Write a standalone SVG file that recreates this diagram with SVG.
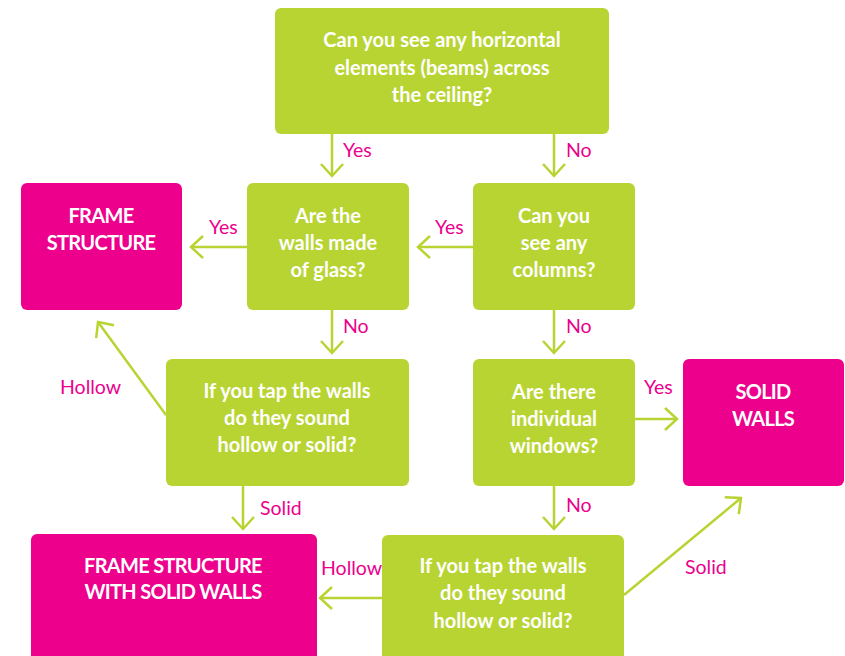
<svg xmlns="http://www.w3.org/2000/svg" width="845" height="656" viewBox="0 0 845 656">
<defs>
<style>
.q{fill:#B8D432}
.a{fill:#EC008C}
.t{fill:#fff;font-family:Lato,"Open Sans",sans-serif;font-weight:bold;font-size:20px;text-anchor:middle}
.u{letter-spacing:-0.7px}
.l{fill:#EC008C;font-family:Lato,"Open Sans",sans-serif;font-size:19.5px}
.c{stroke:#B8D432;stroke-width:2.5;fill:none;marker-end:url(#ah)}
</style>
<marker id="ah" markerUnits="userSpaceOnUse" viewBox="0 0 16 26" refX="14" refY="13" markerWidth="16" markerHeight="26" orient="auto">
<path d="M2,2 L14,13 L2,24" fill="none" stroke="#B8D432" stroke-width="2.5"/>
</marker>
</defs>
<rect width="845" height="656" fill="#fff"/>
<g id="connectors">
<line class="c" x1="332" y1="134" x2="332" y2="176"/>
<line class="c" x1="554" y1="134" x2="554" y2="176"/>
<line class="c" x1="247" y1="247" x2="191" y2="247"/>
<line class="c" x1="473" y1="247" x2="418" y2="247"/>
<line class="c" x1="332" y1="310" x2="332" y2="353"/>
<line class="c" x1="554" y1="310" x2="554" y2="353"/>
<line class="c" x1="166" y1="415" x2="98" y2="322"/>
<line class="c" x1="635" y1="419" x2="677" y2="419"/>
<line class="c" x1="243" y1="486" x2="243" y2="529"/>
<line class="c" x1="554" y1="486" x2="554" y2="529"/>
<line class="c" x1="382" y1="598" x2="320" y2="598"/>
<line class="c" x1="624" y1="595" x2="741" y2="498"/>
<text class="l" x="343" y="157">Yes</text>
<text class="l" x="566" y="157">No</text>
<text class="l" x="209" y="234">Yes</text>
<text class="l" x="435" y="234">Yes</text>
<text class="l" x="343" y="333">No</text>
<text class="l" x="566" y="333">No</text>
<text class="l" x="60" y="394">Hollow</text>
<text class="l" x="644" y="394">Yes</text>
<text class="l" x="260" y="515">Solid</text>
<text class="l" x="566" y="512">No</text>
<text class="l" x="321" y="575">Hollow</text>
<text class="l" x="685" y="574">Solid</text>
</g>
<g id="q-beams">
<rect class="q" x="275" y="8" width="334" height="126" rx="6"/>
<text class="t" x="442" y="47">Can you see any horizontal</text>
<text class="t" x="442" y="75">elements (beams) across</text>
<text class="t" x="442" y="102">the ceiling?</text>
</g>
<g id="frame-structure">
<rect class="a" x="21" y="183" width="161" height="127" rx="6"/>
<text class="t u" x="101" y="223">FRAME</text>
<text class="t u" x="101" y="250">STRUCTURE</text>
</g>
<g id="q-glass">
<rect class="q" x="247" y="183" width="162" height="127" rx="6"/>
<text class="t" x="328" y="223">Are the</text>
<text class="t" x="328" y="250">walls made</text>
<text class="t" x="328" y="277">of glass?</text>
</g>
<g id="q-columns">
<rect class="q" x="473" y="183" width="162" height="127" rx="6"/>
<text class="t" x="554" y="223">Can you</text>
<text class="t" x="554" y="250">see any</text>
<text class="t" x="554" y="277">columns?</text>
</g>
<g id="q-tap-1">
<rect class="q" x="166" y="359" width="243" height="127" rx="6"/>
<text class="t" x="287" y="398">If you tap the walls</text>
<text class="t" x="287" y="425">do they sound</text>
<text class="t" x="287" y="452">hollow or solid?</text>
</g>
<g id="q-windows">
<rect class="q" x="473" y="359" width="162" height="127" rx="6"/>
<text class="t" x="554" y="399">Are there</text>
<text class="t" x="554" y="426">individual</text>
<text class="t" x="554" y="453">windows?</text>
</g>
<g id="solid-walls">
<rect class="a" x="683" y="359" width="161" height="127" rx="6"/>
<text class="t u" x="763" y="399">SOLID</text>
<text class="t u" x="763" y="426">WALLS</text>
</g>
<g id="frame-solid-walls">
<rect class="a" x="31" y="534" width="286" height="140" rx="6"/>
<text class="t u" x="173" y="573">FRAME STRUCTURE</text>
<text class="t u" x="173" y="599">WITH SOLID WALLS</text>
</g>
<g id="q-tap-2">
<rect class="q" x="382" y="535" width="242" height="140" rx="6"/>
<text class="t" x="503" y="573">If you tap the walls</text>
<text class="t" x="503" y="600">do they sound</text>
<text class="t" x="503" y="628">hollow or solid?</text>
</g>
</svg>
